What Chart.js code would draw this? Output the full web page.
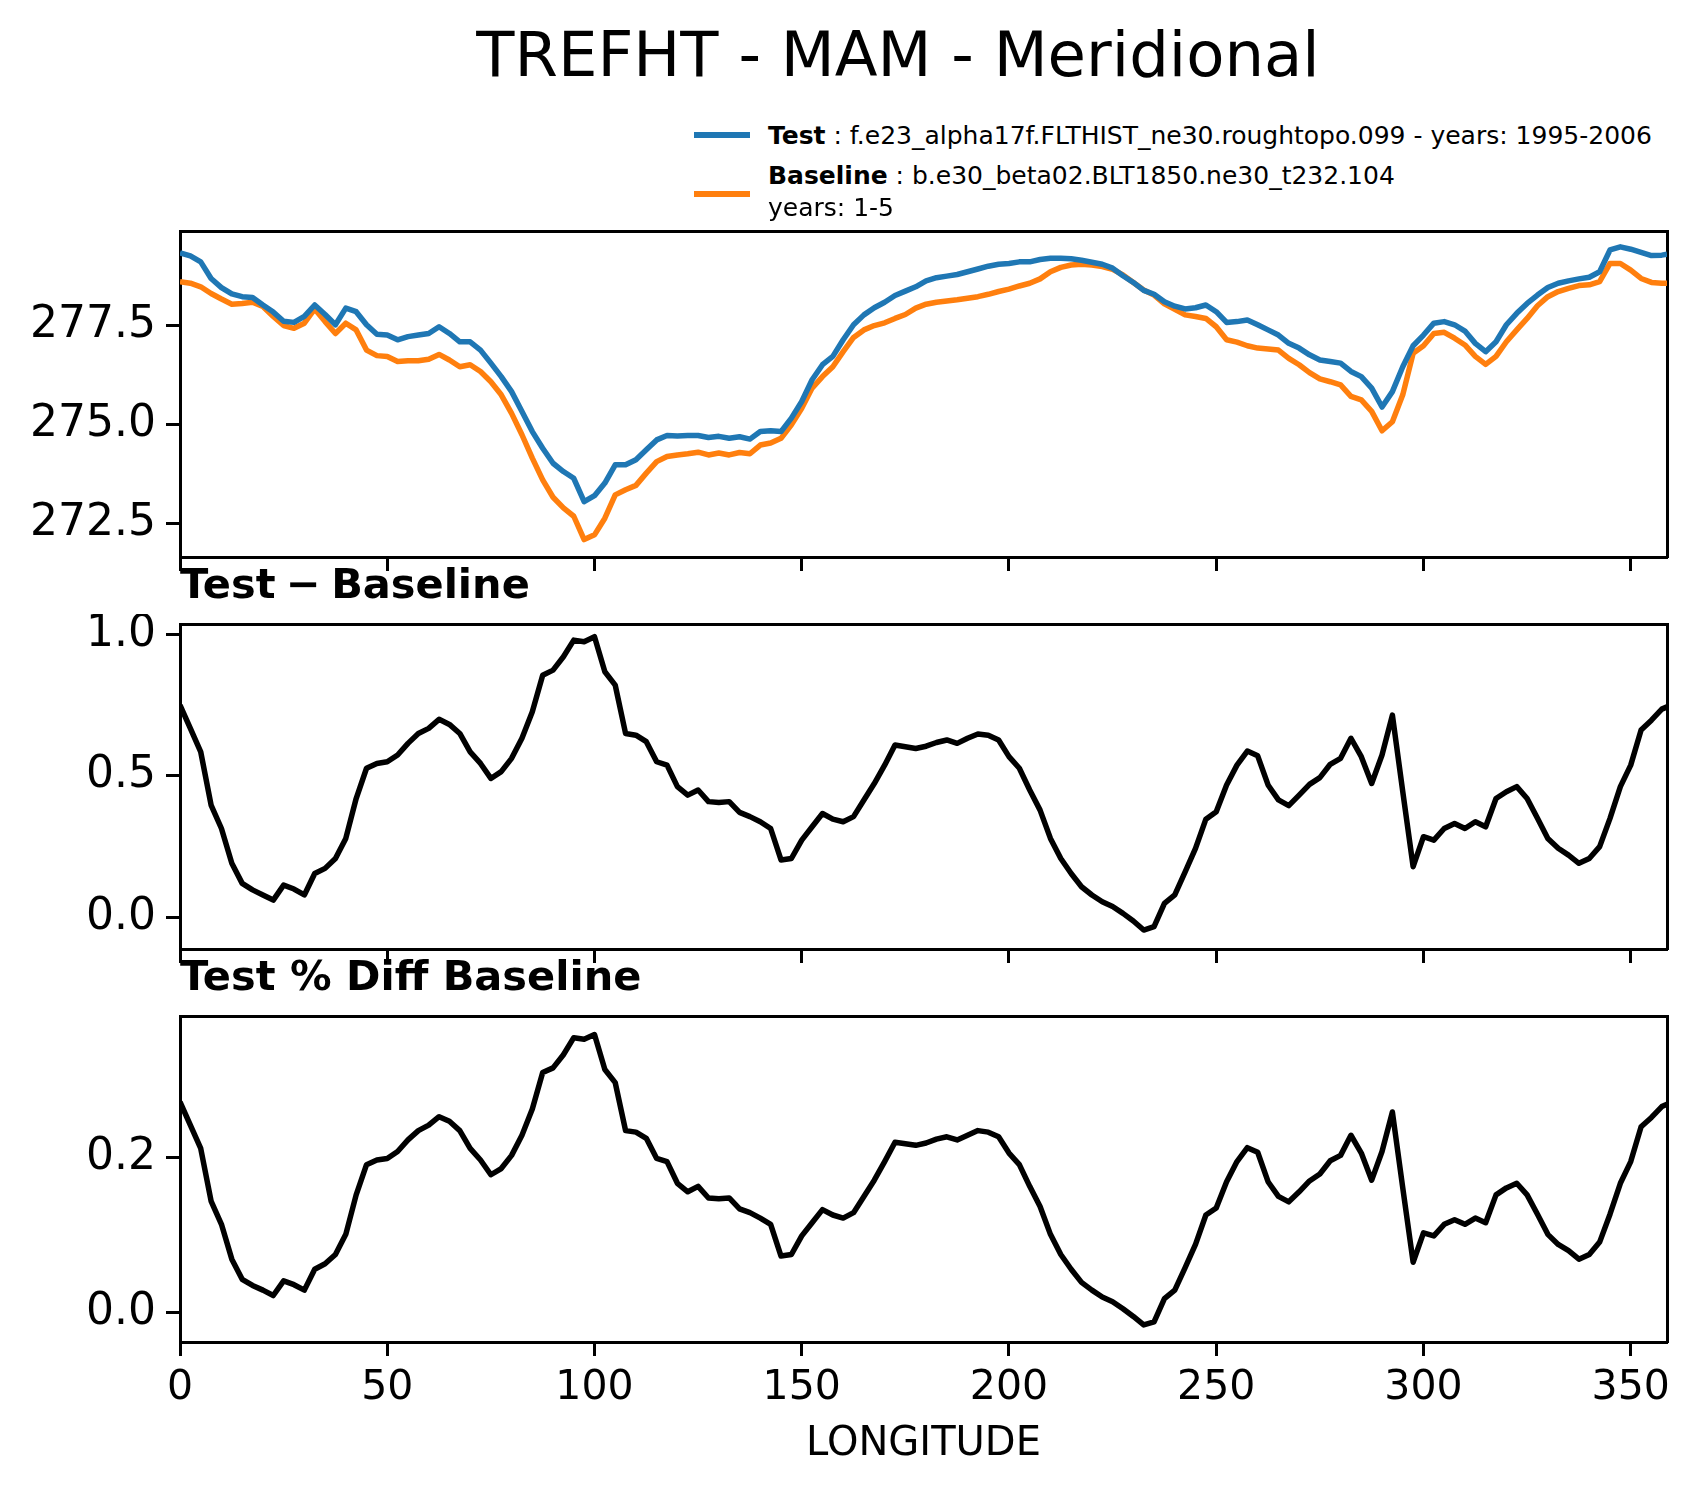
<!DOCTYPE html>
<html>
<head>
<meta charset="utf-8">
<script src="https://cdn.jsdelivr.net/npm/chart.js@4.4.1/dist/chart.umd.min.js"></script>
<style>
  html, body { margin: 0; padding: 0; background: #fff; }
  #page { position: relative; width: 1699px; height: 1496px; overflow: hidden; background: #fff; font-family: 'DejaVu Sans', sans-serif; color: #000; }
  .box { position: absolute; left: 0; width: 1699px; }
  .box canvas { display: block; }
  .txt { position: absolute; white-space: nowrap; line-height: 1; font-family: 'DejaVu Sans', sans-serif; color: #000; }
  .sw { position: absolute; height: 6px; width: 56px; }
</style>
</head>
<body>
<div id="page">
  <div class="box" id="b1" style="top:221px;height:366px"><canvas id="c1" width="1699" height="366"></canvas></div>
  <div class="box" id="b2" style="top:614px;height:365px"><canvas id="c2" width="1699" height="365"></canvas></div>
  <div class="box" id="b3" style="top:1006px;height:490px"><canvas id="c3" width="1699" height="490"></canvas></div>

  <div class="txt" id="suptitle" style="left:898px;top:24px;font-size:62.5px;transform:translateX(-50%)">TREFHT - MAM - Meridional</div>

  <div class="sw" style="left:694px;top:132px;background:#1f77b4"></div>
  <div class="sw" style="left:694px;top:191px;background:#ff7f0e"></div>
  <div class="txt" style="left:768px;top:123px;font-size:25px"><b>Test</b> : f.e23_alpha17f.FLTHIST_ne30.roughtopo.099 - years: 1995-2006</div>
  <div class="txt" style="left:768px;top:163px;font-size:25px"><b>Baseline</b> : b.e30_beta02.BLT1850.ne30_t232.104</div>
  <div class="txt" style="left:768px;top:195px;font-size:25px">years: 1-5</div>

  <div class="txt" style="left:180px;top:563px;font-size:41.5px;font-weight:bold;word-spacing:-4px">Test − Baseline</div>
  <div class="txt" style="left:180px;top:955px;font-size:41.5px;font-weight:bold">Test % Diff Baseline</div>
</div>

<script>
// ---------------- DATA ----------------
const lon = [
  0, 2.5, 5, 7.5, 10, 12.5, 15, 17.5, 20, 22.5,
  25, 27.5, 30, 32.5, 35, 37.5, 40, 42.5, 45, 47.5,
  50, 52.5, 55, 57.5, 60, 62.5, 65, 67.5, 70, 72.5,
  75, 77.5, 80, 82.5, 85, 87.5, 90, 92.5, 95, 97.5,
  100, 102.5, 105, 107.5, 110, 112.5, 115, 117.5, 120, 122.5,
  125, 127.5, 130, 132.5, 135, 137.5, 140, 142.5, 145, 147.5,
  150, 152.5, 155, 157.5, 160, 162.5, 165, 167.5, 170, 172.5,
  175, 177.5, 180, 182.5, 185, 187.5, 190, 192.5, 195, 197.5,
  200, 202.5, 205, 207.5, 210, 212.5, 215, 217.5, 220, 222.5,
  225, 227.5, 230, 232.5, 235, 237.5, 240, 242.5, 245, 247.5,
  250, 252.5, 255, 257.5, 260, 262.5, 265, 267.5, 270, 272.5,
  275, 277.5, 280, 282.5, 285, 287.5, 290, 292.5, 295, 297.5,
  300, 302.5, 305, 307.5, 310, 312.5, 315, 317.5, 320, 322.5,
  325, 327.5, 330, 332.5, 335, 337.5, 340, 342.5, 345, 347.5,
  350, 352.5, 355, 357.5, 358.75
];

const testVals = [
  279.35, 279.27, 279.12, 278.70, 278.47, 278.31, 278.24, 278.22, 278.03, 277.85,
  277.62, 277.59, 277.74, 278.03, 277.79, 277.53, 277.95, 277.86, 277.53, 277.29,
  277.27, 277.15, 277.23, 277.27, 277.31, 277.48, 277.31, 277.10, 277.10, 276.89,
  276.56, 276.22, 275.84, 275.34, 274.83, 274.41, 274.03, 273.82, 273.65, 273.06,
  273.21, 273.53, 273.99, 273.99, 274.12, 274.37, 274.62, 274.73, 274.72, 274.73,
  274.73, 274.68, 274.71, 274.66, 274.70, 274.64, 274.83, 274.85, 274.83, 275.17,
  275.59, 276.14, 276.52, 276.73, 277.15, 277.53, 277.78, 277.96, 278.10, 278.27,
  278.38, 278.49, 278.64, 278.72, 278.76, 278.80, 278.87, 278.94, 279.01, 279.06,
  279.08, 279.12, 279.12, 279.18, 279.21, 279.21, 279.20, 279.16, 279.11, 279.06,
  278.96, 278.77, 278.60, 278.40, 278.30, 278.11, 278.00, 277.93, 277.96, 278.03,
  277.86, 277.59, 277.61, 277.65, 277.53, 277.40, 277.27, 277.06, 276.94, 276.77,
  276.64, 276.60, 276.56, 276.35, 276.22, 275.93, 275.45, 275.84, 276.47, 277.00,
  277.27, 277.57, 277.61, 277.53, 277.37, 277.06, 276.85, 277.10, 277.53, 277.82,
  278.07, 278.28, 278.47, 278.58, 278.64, 278.69, 278.73, 278.87, 279.42, 279.50,
  279.44, 279.36, 279.28, 279.29, 279.31
];

const baseVals = [
  278.62, 278.58, 278.49, 278.32, 278.18, 278.05, 278.07, 278.10, 277.99, 277.74,
  277.51, 277.44, 277.57, 277.93, 277.61, 277.31, 277.57, 277.40, 276.89, 276.75,
  276.73, 276.60, 276.62, 276.62, 276.66, 276.78, 276.64, 276.47, 276.52, 276.35,
  276.09, 275.76, 275.29, 274.75, 274.16, 273.61, 273.17, 272.90, 272.69, 272.10,
  272.22, 272.64, 273.23, 273.36, 273.47, 273.78, 274.07, 274.20, 274.24, 274.27,
  274.31, 274.24, 274.29, 274.24, 274.30, 274.27, 274.49, 274.54, 274.66, 275.00,
  275.42, 275.93, 276.22, 276.47, 276.85, 277.21, 277.40, 277.51, 277.58, 277.69,
  277.79, 277.95, 278.05, 278.10, 278.13, 278.16, 278.20, 278.24, 278.30, 278.37,
  278.43, 278.51, 278.58, 278.69, 278.87, 278.98, 279.04, 279.06, 279.04, 279.00,
  278.93, 278.79, 278.60, 278.41, 278.28, 278.06, 277.92, 277.78, 277.74, 277.69,
  277.48, 277.15, 277.09, 277.00, 276.94, 276.92, 276.89, 276.68, 276.52, 276.32,
  276.16, 276.09, 276.01, 275.72, 275.63, 275.34, 274.85, 275.08, 275.76, 276.81,
  277.00, 277.31, 277.34, 277.19, 277.02, 276.73, 276.53, 276.73, 277.10, 277.40,
  277.69, 278.01, 278.24, 278.37, 278.45, 278.52, 278.54, 278.62, 279.08, 279.08,
  278.91, 278.70, 278.60, 278.58, 278.58
];

const diffVals = [
  0.750, 0.668, 0.585, 0.397, 0.314, 0.191, 0.120, 0.097, 0.079, 0.061,
  0.114, 0.100, 0.079, 0.155, 0.173, 0.208, 0.279, 0.420, 0.527, 0.544,
  0.550, 0.574, 0.615, 0.650, 0.668, 0.700, 0.682, 0.650, 0.585, 0.544,
  0.491, 0.515, 0.562, 0.633, 0.727, 0.856, 0.874, 0.921, 0.980, 0.974,
  0.992, 0.868, 0.821, 0.650, 0.644, 0.621, 0.550, 0.538, 0.462, 0.432,
  0.450, 0.409, 0.406, 0.409, 0.371, 0.356, 0.338, 0.314, 0.203, 0.208,
  0.273, 0.320, 0.367, 0.347, 0.338, 0.356, 0.415, 0.473, 0.538, 0.609,
  0.603, 0.597, 0.605, 0.618, 0.627, 0.615, 0.633, 0.648, 0.644, 0.627,
  0.568, 0.527, 0.450, 0.379, 0.279, 0.208, 0.155, 0.108, 0.079, 0.055,
  0.038, 0.014, -0.013, -0.045, -0.033, 0.049, 0.079, 0.161, 0.244, 0.347,
  0.373, 0.468, 0.538, 0.588, 0.571, 0.468, 0.415, 0.395, 0.432, 0.470,
  0.494, 0.541, 0.562, 0.633, 0.568, 0.473, 0.574, 0.715, 0.444, 0.179,
  0.285, 0.273, 0.314, 0.332, 0.314, 0.338, 0.320, 0.420, 0.444, 0.462,
  0.420, 0.350, 0.279, 0.244, 0.220, 0.191, 0.208, 0.250, 0.350, 0.462,
  0.538, 0.662, 0.697, 0.736, 0.744
];

const pctVals = [
  0.272, 0.242, 0.212, 0.144, 0.114, 0.069, 0.043, 0.035, 0.029, 0.022,
  0.041, 0.036, 0.029, 0.056, 0.063, 0.075, 0.101, 0.152, 0.191, 0.197,
  0.199, 0.208, 0.223, 0.235, 0.242, 0.253, 0.247, 0.235, 0.212, 0.197,
  0.178, 0.186, 0.203, 0.229, 0.263, 0.310, 0.316, 0.333, 0.355, 0.353,
  0.359, 0.314, 0.297, 0.235, 0.233, 0.225, 0.199, 0.195, 0.167, 0.156,
  0.163, 0.148, 0.147, 0.148, 0.134, 0.129, 0.122, 0.114, 0.073, 0.075,
  0.099, 0.116, 0.133, 0.126, 0.122, 0.129, 0.150, 0.171, 0.195, 0.220,
  0.218, 0.216, 0.219, 0.224, 0.227, 0.223, 0.229, 0.235, 0.233, 0.227,
  0.206, 0.191, 0.163, 0.137, 0.101, 0.075, 0.056, 0.039, 0.029, 0.020,
  0.014, 0.005, -0.005, -0.016, -0.012, 0.018, 0.029, 0.058, 0.088, 0.126,
  0.135, 0.169, 0.195, 0.213, 0.207, 0.169, 0.150, 0.143, 0.156, 0.170,
  0.179, 0.196, 0.203, 0.229, 0.206, 0.171, 0.208, 0.259, 0.161, 0.065,
  0.103, 0.099, 0.114, 0.120, 0.114, 0.122, 0.116, 0.152, 0.161, 0.167,
  0.152, 0.127, 0.101, 0.088, 0.080, 0.069, 0.075, 0.091, 0.127, 0.167,
  0.195, 0.240, 0.252, 0.266, 0.269
];

const xTicks = [0, 50, 100, 150, 200, 250, 300, 350];
const y1Ticks = [272.5, 275.0, 277.5];
const y2Ticks = [0.0, 0.5, 1.0];
const y3Ticks = [0.0, 0.2];

// ---------------- CHARTS ----------------
const FONT = 'DejaVu Sans';
const X_MIN = 0, X_MAX = 358.75;

function pts(vals) { return lon.map((x, i) => ({ x: x, y: vals[i] })); }

function noPad(s) { s.paddingLeft = 0; s.paddingRight = 0; s.paddingTop = 0; s.paddingBottom = 0; }

function frameAxis(pos) {
  return {
    type: 'linear', position: pos, display: true,
    min: pos === 'top' ? X_MIN : 0, max: pos === 'top' ? X_MAX : 1,
    grid: { display: false, drawTicks: false },
    ticks: { display: false },
    border: { display: true, color: '#000', width: 3 },
    afterBuildTicks: s => { s.ticks = []; },
    afterFit: s => { noPad(s); if (pos === 'top') s.height = 0; else s.width = 0; }
  };
}

function makeChart(canvasId, datasets, yMin, yMax, yTicks, opts) {
  const xScale = {
    type: 'linear', position: 'bottom', min: X_MIN, max: X_MAX,
    afterBuildTicks: s => { s.ticks = xTicks.map(v => ({ value: v })); },
    ticks: {
      display: opts.showX, color: '#000', padding: 8, maxRotation: 0, autoSkip: false,
      font: { family: FONT, size: 41 },
      callback: v => String(v)
    },
    grid: { drawOnChartArea: false, drawTicks: true, tickLength: 14, tickWidth: 3, tickColor: '#000' },
    border: { display: true, color: '#000', width: 3 },
    afterFit: s => { noPad(s); s.height = opts.xHeight; }
  };
  if (opts.xTitle) {
    xScale.title = { display: true, text: opts.xTitle, color: '#000',
      font: { family: FONT, size: 40 }, padding: { top: 0, bottom: 27 } };
  }
  return new Chart(document.getElementById(canvasId), {
    type: 'line',
    data: { datasets: datasets },
    options: {
      responsive: false, animation: false, devicePixelRatio: 1,
      parsing: false, normalized: true,
      layout: { padding: { top: 10, right: 32, left: 0, bottom: 0 }, autoPadding: false },
      plugins: { legend: { display: false }, tooltip: { enabled: false }, title: { display: false } },
      elements: { point: { radius: 0 }, line: { tension: 0, borderWidth: 5.5, borderJoinStyle: 'round', borderCapStyle: 'butt' } },
      scales: {
        x: xScale,
        xTop: frameAxis('top'),
        y: {
          type: 'linear', position: 'left', min: yMin, max: yMax,
          afterBuildTicks: s => { s.ticks = yTicks.map(v => ({ value: v })); },
          ticks: { color: '#000', padding: 10, font: { family: FONT, size: 44 }, callback: v => Number(v).toFixed(1) },
          grid: { drawOnChartArea: false, drawTicks: true, tickLength: 14, tickWidth: 3, tickColor: '#000' },
          border: { display: true, color: '#000', width: 3 },
          afterFit: s => { noPad(s); s.width = 180; }
        },
        yRight: frameAxis('right')
      }
    }
  });
}

makeChart('c1', [
  { label: 'Test', data: pts(testVals), borderColor: '#1f77b4', backgroundColor: '#1f77b4', fill: false },
  { label: 'Baseline', data: pts(baseVals), borderColor: '#ff7f0e', backgroundColor: '#ff7f0e', fill: false }
], 271.66, 279.90, y1Ticks, { showX: false, xHeight: 30 });

makeChart('c2', [
  { label: 'Test - Baseline', data: pts(diffVals), borderColor: '#000', backgroundColor: '#000', fill: false }
], -0.112, 1.037, y2Ticks, { showX: false, xHeight: 30 });

makeChart('c3', [
  { label: 'Test % Diff Baseline', data: pts(pctVals), borderColor: '#000', backgroundColor: '#000', fill: false }
], -0.038, 0.383, y3Ticks, { showX: true, xHeight: 154, xTitle: 'LONGITUDE' });
</script>
</body>
</html>
